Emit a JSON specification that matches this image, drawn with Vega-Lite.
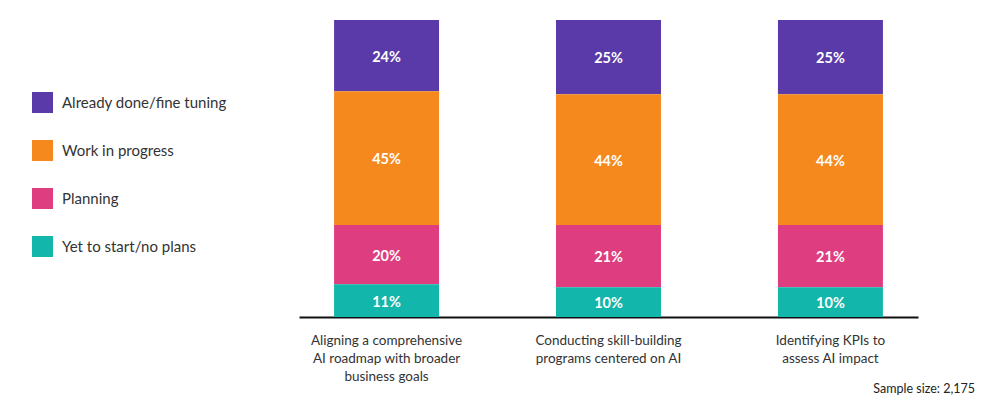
{
  "$schema": "https://vega.github.io/schema/vega-lite/v6.json",
  "width": 619,
  "height": 297,
  "autosize": "none",
  "padding": {"left": 299, "top": 20, "right": 64, "bottom": 87},
  "config": {"view": {"stroke": null}, "font": "Lato"},
  "title": {"text": "Sample size: 2,175", "orient": "bottom", "anchor": "end", "dx": 57, "offset": 0, "fontSize": 12.5, "fontWeight": "normal", "color": "#222", "font": "Lato"},
  "data": {"values": [
    {"task": "Aligning a comprehensive AI roadmap with broader business goals", "status": "Already done/fine tuning", "level": 4, "pct": 24},
    {"task": "Aligning a comprehensive AI roadmap with broader business goals", "status": "Work in progress", "level": 3, "pct": 45},
    {"task": "Aligning a comprehensive AI roadmap with broader business goals", "status": "Planning", "level": 2, "pct": 20},
    {"task": "Aligning a comprehensive AI roadmap with broader business goals", "status": "Yet to start/no plans", "level": 1, "pct": 11},
    {"task": "Conducting skill-building programs centered on AI", "status": "Already done/fine tuning", "level": 4, "pct": 25},
    {"task": "Conducting skill-building programs centered on AI", "status": "Work in progress", "level": 3, "pct": 44},
    {"task": "Conducting skill-building programs centered on AI", "status": "Planning", "level": 2, "pct": 21},
    {"task": "Conducting skill-building programs centered on AI", "status": "Yet to start/no plans", "level": 1, "pct": 10},
    {"task": "Identifying KPIs to assess AI impact", "status": "Already done/fine tuning", "level": 4, "pct": 25},
    {"task": "Identifying KPIs to assess AI impact", "status": "Work in progress", "level": 3, "pct": 44},
    {"task": "Identifying KPIs to assess AI impact", "status": "Planning", "level": 2, "pct": 21},
    {"task": "Identifying KPIs to assess AI impact", "status": "Yet to start/no plans", "level": 1, "pct": 10}
  ]},
  "transform": [
    {"stack": "pct", "groupby": ["task"], "sort": [{"field": "level", "order": "ascending"}], "as": ["y0", "y1"]},
    {"calculate": "(datum.y0 + datum.y1) / 2", "as": "ymid"},
    {"calculate": "datum.pct + '%'", "as": "txt"}
  ],
  "encoding": {
    "x": {
      "field": "task",
      "type": "nominal",
      "sort": ["Aligning a comprehensive AI roadmap with broader business goals", "Conducting skill-building programs centered on AI", "Identifying KPIs to assess AI impact"],
      "scale": {"paddingInner": 0.527, "paddingOuter": 0.158},
      "axis": {
        "title": null,
        "domainColor": "#111",
        "domainWidth": 2,
        "ticks": false,
        "labelAngle": 0,
        "labelFontSize": 13.5,
        "labelColor": "#333",
        "labelPadding": 16,
        "labelLineHeight": 18,
        "labelLimit": 300,
        "labelBaseline": "top",
        "labelExpr": "datum.value == 'Aligning a comprehensive AI roadmap with broader business goals' ? ['Aligning a comprehensive', 'AI roadmap with broader', 'business goals'] : datum.value == 'Conducting skill-building programs centered on AI' ? ['Conducting skill-building', 'programs centered on AI'] : ['Identifying KPIs to', 'assess AI impact']"
      }
    }
  },
  "layer": [
    {
      "mark": {"type": "bar"},
      "encoding": {
        "y": {"field": "y0", "type": "quantitative", "scale": {"domain": [0, 100]}, "axis": null},
        "y2": {"field": "y1"},
        "color": {
          "field": "status",
          "type": "nominal",
          "sort": ["Already done/fine tuning", "Work in progress", "Planning", "Yet to start/no plans"],
          "scale": {
            "domain": ["Already done/fine tuning", "Work in progress", "Planning", "Yet to start/no plans"],
            "range": ["#5a3aa9", "#f6891e", "#de3e7f", "#13b6aa"]
          },
          "legend": {
            "orient": "none",
            "legendX": -267,
            "legendY": 72,
            "title": null,
            "symbolType": "square",
            "symbolSize": 441,
            "symbolStrokeWidth": 0,
            "labelFontSize": 15,
            "labelLimit": 300,
            "labelColor": "#333",
            "rowPadding": 27,
            "labelOffset": 9,
            "padding": 0
          }
        }
      }
    },
    {
      "mark": {"type": "text", "color": "white", "fontWeight": "bold", "fontSize": 14.5, "dy": 2},
      "encoding": {
        "y": {"field": "ymid", "type": "quantitative"},
        "text": {"field": "txt"}
      }
    }
  ]
}
